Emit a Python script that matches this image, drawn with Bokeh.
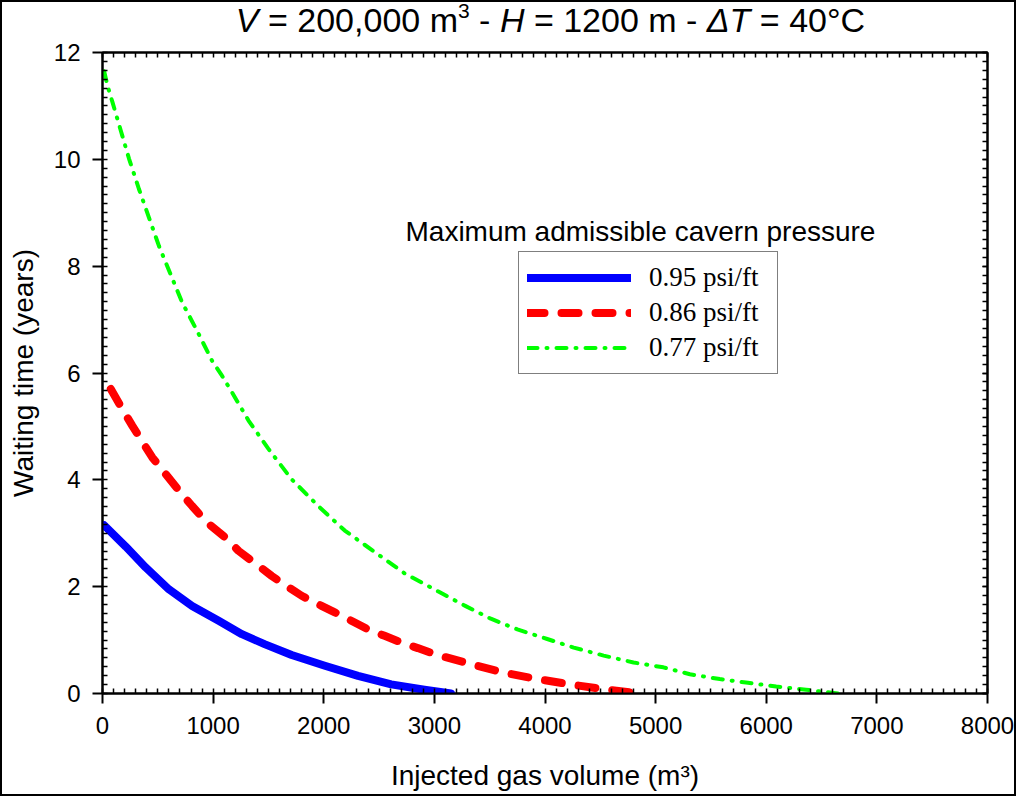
from bokeh.plotting import figure
from bokeh.layouts import column
from bokeh.models import (FixedTicker, LinearAxis, Range1d, Label, Legend,
                          LegendItem, CustomJSTickFormatter, Div)
from bokeh.embed import file_html
from bokeh.resources import INLINE

# ---------------- data ----------------
x_095 = [15, 210, 390, 600, 810, 1050, 1260, 1470, 1710, 2010, 2310, 2610, 2910, 3150]
y_095 = [3.15, 2.75, 2.36, 1.95, 1.64, 1.36, 1.11, 0.92, 0.72, 0.52, 0.33, 0.17, 0.07, 0.0]

x_086 = [75, 180, 270, 450, 570, 690, 810, 945, 1110, 1230, 1410, 1530, 1680, 1800,
         1980, 2100, 2280, 2400, 2550, 2730, 2850, 3030, 3330, 3630, 3930, 4230, 4530, 4850]
y_086 = [5.70, 5.32, 5.01, 4.42, 4.11, 3.80, 3.51, 3.20, 2.92, 2.67, 2.39, 2.20, 1.99, 1.83,
         1.64, 1.52, 1.33, 1.20, 1.08, 0.93, 0.85, 0.72, 0.55, 0.39, 0.27, 0.17, 0.08, 0.0]

x_077 = [15, 45, 90, 165, 240, 330, 420, 510, 615, 720, 855, 990, 1080, 1170, 1320, 1500,
         1710, 1950, 2190, 2460, 2730, 3000, 3270, 3510, 3750, 4020, 4260, 4530, 4800,
         5070, 5310, 5580, 5835, 6090, 6360, 6650]
y_077 = [11.65, 11.38, 11.07, 10.54, 10.01, 9.44, 8.91, 8.38, 7.85, 7.32, 6.79, 6.23, 5.95,
         5.64, 5.11, 4.58, 4.01, 3.51, 3.05, 2.65, 2.25, 1.95, 1.65, 1.40, 1.20, 1.02, 0.86,
         0.71, 0.58, 0.49, 0.36, 0.27, 0.20, 0.13, 0.07, 0.0]

series_labels = ["0.95 psi/ft", "0.86 psi/ft", "0.77 psi/ft"]
x_ticks = [0, 1000, 2000, 3000, 4000, 5000, 6000, 7000, 8000]
y_ticks = [0, 2, 4, 6, 8, 10, 12]
x_minor = [i * 100 for i in range(81)]
y_minor = [i / 6 for i in range(73)]

title_parts = [("V", "italic"), (" = 200,000 m", "normal"), ("3", "sup"), (" - ", "normal"),
               ("H", "italic"), (" = 1200 m - ", "normal"), ("\u0394T", "italic"),
               (" = 40\u00b0C", "normal")]
legend_title = "Maximum admissible cavern pressure"

SANS = "Liberation Sans"
SERIF = "Liberation Serif"
W = 1012
TITLE_H = 36

# ---------------- title (HTML, mixed styles) ----------------
pieces = []
for txt, sty in title_parts:
    if sty == "italic":
        pieces.append("<i>%s</i>" % txt)
    elif sty == "sup":
        pieces.append('<span style="font-size:21px;position:relative;top:-14px;">%s</span>' % txt)
    else:
        pieces.append(txt.replace(" ", "&nbsp;") if txt.strip() == "-" else txt)
title_html = ("<div style=\"font-family:'%s';font-size:34px;line-height:%dpx;color:black;"
              "width:%dpx;box-sizing:border-box;text-align:center;padding-left:85px;"
              "white-space:nowrap;\">%s</div>"
              % (SANS, TITLE_H, W, "".join(pieces)))
title_div = Div(text=title_html, width=W, height=TITLE_H, margin=0)

# ---------------- figure ----------------
p = figure(width=W, height=756, output_backend="svg", toolbar_location=None,
           x_range=Range1d(0, 8000), y_range=Range1d(0, 12),
           min_border_left=100, min_border_right=27, min_border_top=14,
           min_border_bottom=101,
           x_axis_label="Injected gas volume (m\u00b3)",
           y_axis_label="Waiting time (years)")
p.grid.visible = False
p.background_fill_color = "white"
p.border_fill_color = "white"
p.outline_line_color = "black"
p.outline_line_width = 2

p.xaxis.ticker = FixedTicker(ticks=x_ticks, minor_ticks=x_minor)
p.yaxis.ticker = FixedTicker(ticks=y_ticks, minor_ticks=y_minor)

for ax in [p.xaxis[0], p.yaxis[0]]:
    ax.axis_line_color = "black"
    ax.axis_line_width = 2
    ax.major_tick_line_color = "black"
    ax.major_tick_line_width = 2
    ax.minor_tick_line_color = "black"
    ax.minor_tick_line_width = 1.5
    ax.major_tick_out = 10
    ax.major_tick_in = 0
    ax.minor_tick_out = 0
    ax.minor_tick_in = 5
    ax.major_label_text_font = SANS
    ax.major_label_text_font_size = "24px"
    ax.major_label_text_color = "black"
    ax.axis_label_text_font = SANS
    ax.axis_label_text_font_size = "28px"
    ax.axis_label_text_font_style = "normal"
    ax.axis_label_text_color = "black"

p.xaxis.major_label_standoff = 13
p.xaxis.axis_label_standoff = 23
p.yaxis.major_label_standoff = 12
p.yaxis.axis_label_standoff = 12

blank = CustomJSTickFormatter(code="return ''")
top = LinearAxis(ticker=FixedTicker(ticks=x_ticks, minor_ticks=x_minor), formatter=blank,
                 major_tick_in=0, major_tick_out=0, minor_tick_in=5, minor_tick_out=0,
                 axis_line_width=2, minor_tick_line_width=1.5, major_label_standoff=0,
                 major_label_text_font_size="1px")
p.add_layout(top, "above")
right = LinearAxis(ticker=FixedTicker(ticks=y_ticks, minor_ticks=y_minor), formatter=blank,
                   major_tick_in=5, major_tick_out=0, minor_tick_in=5, minor_tick_out=0,
                   axis_line_width=2, major_tick_line_width=1.5, minor_tick_line_width=1.5,
                   major_label_standoff=0, major_label_text_font_size="1px")
p.add_layout(right, "right")

r1 = p.line(x_095, y_095, line_color="#0000ff", line_width=8, line_cap="round",
            line_join="round")
r2 = p.line(x_086, y_086, line_color="#ff0000", line_width=8, line_cap="round",
            line_join="round", line_dash="17 17")
r3 = p.line(x_077, y_077, line_color="#00ff00", line_width=4, line_cap="round",
            line_join="round", line_dash="10 9 1 9")

legend = Legend(items=[LegendItem(label=series_labels[0], renderers=[r1]),
                       LegendItem(label=series_labels[1], renderers=[r2]),
                       LegendItem(label=series_labels[2], renderers=[r3])],
                location=(416, 319), margin=0, padding=8, spacing=0,
                glyph_width=104, glyph_height=35, label_standoff=18, label_width=120,
                label_text_font=SERIF, label_text_font_size="27px",
                label_text_color="black",
                border_line_color="black", border_line_width=1.5,
                background_fill_color="white", background_fill_alpha=1.0)
p.add_layout(legend)

# legend heading (screen offset from frame bottom-left, reference pixels)
FL, FB = 110, 701
p.add_layout(Label(x=413 - FL, y=FB - 239, x_units="screen", y_units="screen",
                   text=legend_title, text_font=SANS, text_font_size="28px",
                   text_color="black", text_align="left", text_baseline="alphabetic"))

layout = column(title_div, p, spacing=0, styles={"border": "2px solid black"})

open("out.html", "w").write(file_html(layout, INLINE))
